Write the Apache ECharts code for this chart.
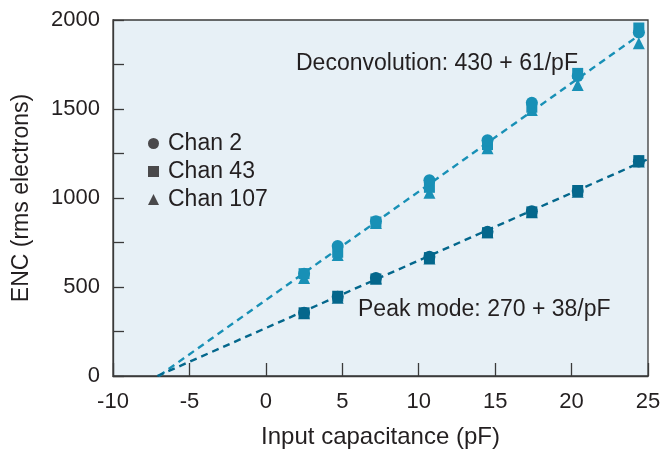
<!DOCTYPE html>
<html>
<head>
<meta charset="utf-8">
<script src="https://cdn.jsdelivr.net/npm/echarts@6/dist/echarts.min.js"></script>
<style>
  html, body { margin: 0; padding: 0; background: #fff; }
  #chart { width: 666px; height: 458px; }
</style>
</head>
<body>
<div id="chart"></div>
<script>
// input capacitance (pF) where channels were measured
var capacitance = [2.5, 4.7, 7.2, 10.7, 14.5, 17.4, 20.4, 24.4];

// deconvolution mode ENC (rms electrons)
var decoChan2   = [575, 730, 870, 1100, 1325, 1535, 1685, 1930];
var decoChan43  = [575, 695, 865, 1060, 1300, 1510, 1700, 1955];
var decoChan107 = [550, 680, 860, 1030, 1280, 1495, 1635, 1870];

// peak mode ENC (rms electrons)
var peakChan2   = [355, 445, 550, 670, 810, 925, 1040, 1205];
var peakChan43  = [355, 448, 545, 665, 805, 922, 1042, 1210];
var peakChan107 = [352, 440, 548, 660, 808, 920, 1035, 1205];

// fitted lines, end points
var decoFit = [[-7.0, 0], [25, 1950]];
var peakFit = [[-7.1, 0], [25, 1218]];

var channelNames = ['Chan 2', 'Chan 43', 'Chan 107'];

var decoColor = '#1890b6';
var peakColor = '#04678c';
var inkColor = '#231f20';
var fontFam = '"Liberation Sans", Arial, sans-serif';

function pairs(vals) {
  return capacitance.map(function (c, i) { return [c, vals[i]]; });
}

function scatter(name, vals, symbol, color, size) {
  return {
    name: name,
    type: 'scatter',
    data: pairs(vals),
    symbol: symbol,
    symbolSize: size,
    itemStyle: { color: color, opacity: 1 },
    z: 3
  };
}

var chart = echarts.init(document.getElementById('chart'), null, { renderer: 'canvas' });

var axisLineStyle = { color: '#3a3a3a', width: 1.3 };

var option = {
  animation: false,
  textStyle: { fontFamily: fontFam },
  grid: {
    left: 113, right: 18, top: 20, bottom: 82,
    show: true,
    backgroundColor: '#e7f0f6',
    borderColor: '#3a3a3a',
    borderWidth: 1.3
  },
  legend: {
    orient: 'vertical',
    left: 143,
    top: 127,
    itemWidth: 11,
    itemHeight: 11,
    itemGap: 5,
    textStyle: { fontSize: 23, lineHeight: 23, color: inkColor, fontFamily: fontFam, padding: [0, 0, 0, 4] },
    data: [
      { name: channelNames[0], icon: 'circle' },
      { name: channelNames[1], icon: 'rect' },
      { name: channelNames[2], icon: 'triangle' }
    ]
  },
  xAxis: {
    type: 'value',
    min: -10, max: 25, interval: 5,
    name: 'Input capacitance (pF)',
    nameLocation: 'middle',
    nameGap: 49,
    nameTextStyle: { fontSize: 24, color: inkColor, fontFamily: fontFam },
    axisLine: { lineStyle: axisLineStyle },
    axisTick: { inside: true, length: 13, lineStyle: axisLineStyle },
    axisLabel: { fontSize: 22, color: inkColor, margin: 15, fontFamily: fontFam },
    splitLine: { show: false }
  },
  yAxis: {
    type: 'value',
    min: 0, max: 2000, interval: 500,
    name: 'ENC (rms electrons)',
    nameLocation: 'middle',
    nameGap: 80,
    nameTextStyle: { fontSize: 23, color: inkColor, fontFamily: fontFam },
    axisLine: { show: true, onZero: false, lineStyle: axisLineStyle },
    axisTick: { inside: true, length: 11, lineStyle: axisLineStyle },
    minorTick: { show: true, splitNumber: 2, length: 11, lineStyle: axisLineStyle },
    axisLabel: {
      fontSize: 22, color: inkColor, margin: 13, fontFamily: fontFam,
      formatter: function (v) { return String(v); }
    },
    splitLine: { show: false }
  },
  graphic: [
    {
      type: 'text', left: 296, top: 52,
      style: { text: 'Deconvolution: 430 + 61/pF', fontSize: 23, fill: inkColor, fontFamily: fontFam }
    },
    {
      type: 'text', left: 358, top: 298,
      style: { text: 'Peak mode: 270 + 38/pF', fontSize: 23, fill: inkColor, fontFamily: fontFam }
    }
  ],
  series: [
    {
      name: 'deco fit', type: 'line', data: decoFit, symbol: 'none', z: 2,
      lineStyle: { color: decoColor, width: 2.4, type: [7, 5] }
    },
    {
      name: 'peak fit', type: 'line', data: peakFit, symbol: 'none', z: 2,
      lineStyle: { color: peakColor, width: 2.4, type: [7, 5] }
    },
    // legend-only entries drawn in black
    { name: channelNames[0], type: 'scatter', data: [], itemStyle: { color: inkColor } },
    { name: channelNames[1], type: 'scatter', data: [], itemStyle: { color: inkColor } },
    { name: channelNames[2], type: 'scatter', data: [], itemStyle: { color: inkColor } },
    scatter('deco 107', decoChan107, 'triangle', decoColor, 12),
    scatter('deco 43', decoChan43, 'rect', decoColor, 11),
    scatter('deco 2', decoChan2, 'circle', decoColor, 12),
    scatter('peak 107', peakChan107, 'triangle', peakColor, 12),
    scatter('peak 43', peakChan43, 'rect', peakColor, 11),
    scatter('peak 2', peakChan2, 'circle', peakColor, 12)
  ]
};

chart.setOption(option);
</script>
</body>
</html>
